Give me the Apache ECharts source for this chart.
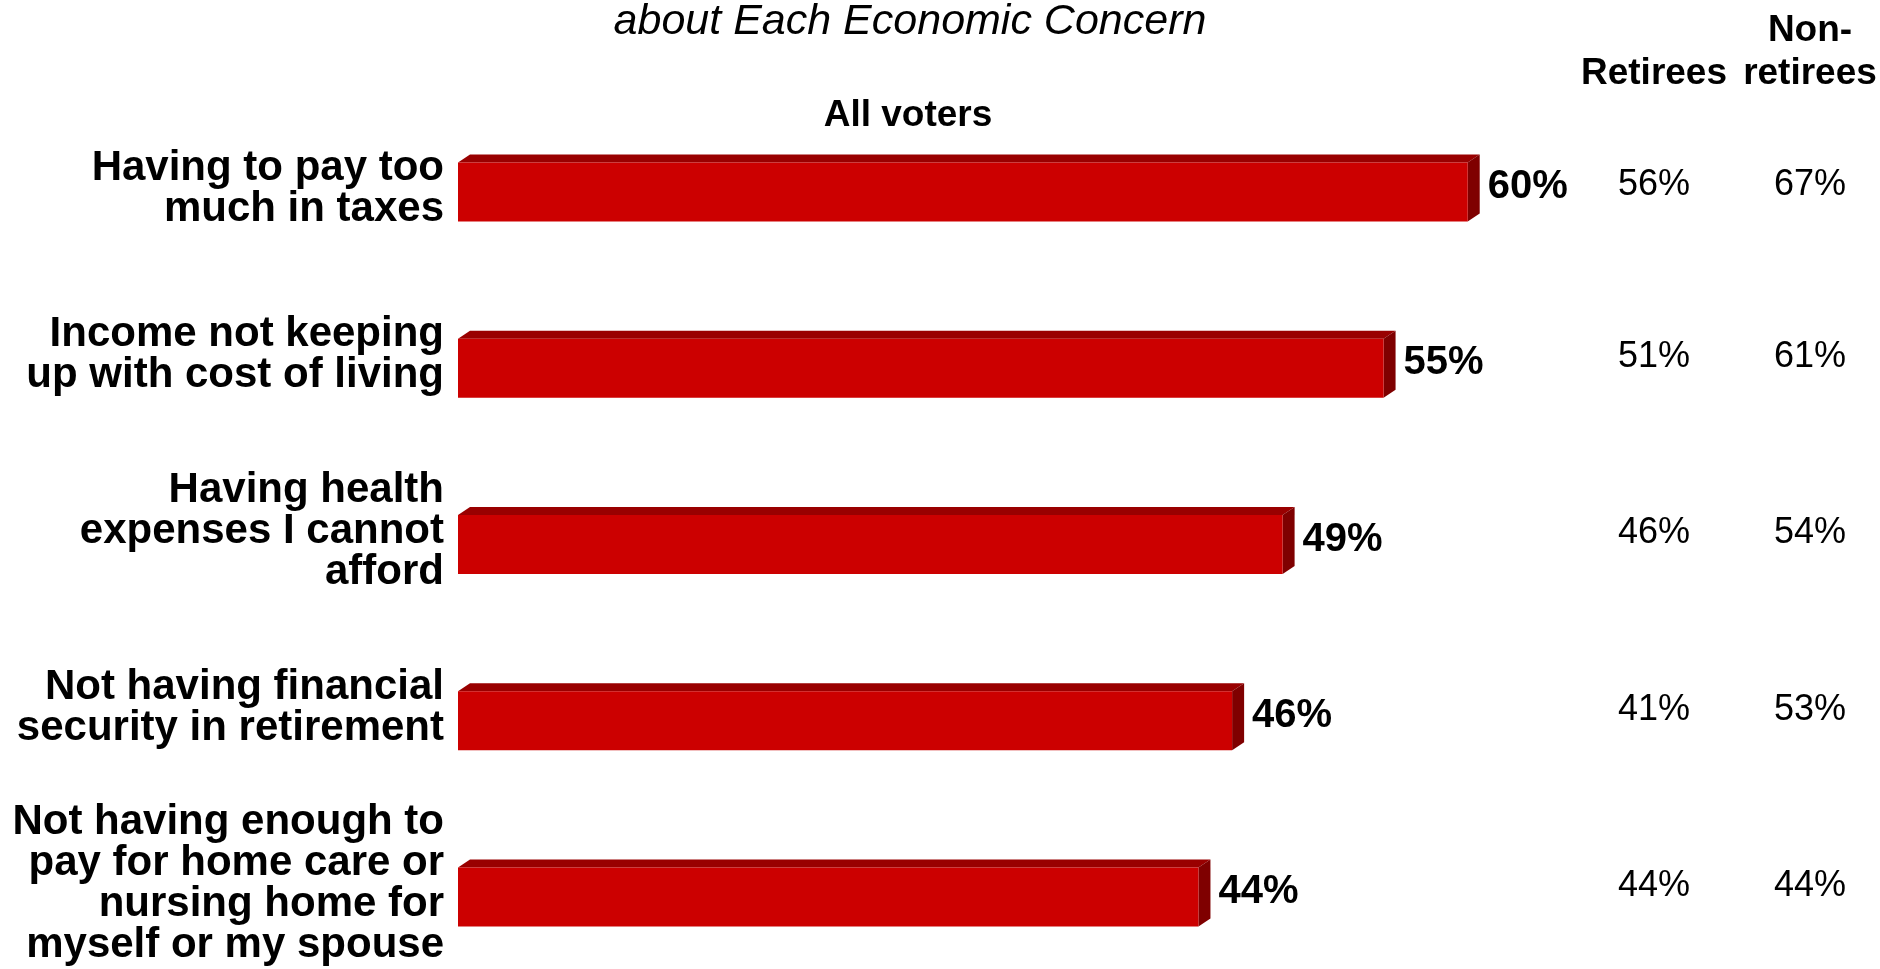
<!DOCTYPE html>
<html>
<head>
<meta charset="utf-8">
<script src="https://cdn.jsdelivr.net/npm/echarts@6/dist/echarts.min.js"></script>
<style>
html,body{margin:0;padding:0;background:#fff;}
#chart{width:1880px;height:969px;}
</style>
</head>
<body>
<div id="chart"></div>
<script>
const categories = [
  'Having to pay too\nmuch in taxes',
  'Income not keeping\nup with cost of living',
  'Having health\nexpenses I cannot\nafford',
  'Not having financial\nsecurity in retirement',
  'Not having enough to\npay for home care or\nnursing home for\nmyself or my spouse'
];
const allVoters = [60, 55, 49, 46, 44];
const retirees = [56, 51, 46, 41, 44];
const nonRetirees = [67, 61, 54, 53, 44];
const titleText = 'about Each Economic Concern';
const headAll = 'All voters';
const headRet = 'Retirees';
const headNon = 'Non-\nretirees';

const FONT = '"Liberation Sans", Arial, Helvetica, sans-serif';
const chart = echarts.init(document.getElementById('chart'), null, {renderer: 'canvas'});

function renderBar(params, api) {
  const v = api.value(0), ci = api.value(1);
  const p0 = api.coord([0, ci]);
  const p1 = api.coord([v, ci]);
  const band = api.size([0, 1])[1];
  const h = band * 0.335;
  const yT = p0[1] - h / 2, yB = p0[1] + h / 2;
  const x0 = p0[0], x1 = p1[0];
  const dx = 12, dy = 8;
  return {
    type: 'group',
    children: [
      {type: 'polygon', shape: {points: [[x0, yT], [x0 + dx, yT - dy], [x1 + dx, yT - dy], [x1, yT]]}, style: {fill: '#990000'}},
      {type: 'polygon', shape: {points: [[x1, yT], [x1 + dx, yT - dy], [x1 + dx, yB - dy], [x1, yB]]}, style: {fill: '#7f0000'}},
      {type: 'rect', shape: {x: x0, y: yT, width: x1 - x0, height: h}, style: {fill: '#CC0000'}},
      {type: 'text', style: {text: v + '%', x: x1 + 20, y: p0[1] - 5, align: 'left', verticalAlign: 'middle',
        fontSize: 40, fontWeight: 'bold', fontFamily: FONT, fill: '#000'}}
    ]
  };
}

function renderCols(params, api) {
  const ci = api.value(1);
  const p = api.coord([0, ci]);
  const y = p[1] - (ci === 0 ? 7 : 11);
  return {
    type: 'group',
    children: [
      {type: 'text', style: {text: api.value(0) + '%', x: 1654, y: y, align: 'center', verticalAlign: 'middle',
        fontSize: 36, fontFamily: FONT, fill: '#000'}},
      {type: 'text', style: {text: api.value(2) + '%', x: 1810, y: y, align: 'center', verticalAlign: 'middle',
        fontSize: 36, fontFamily: FONT, fill: '#000'}}
    ]
  };
}

function renderCatLabel(params, api) {
  const ci = api.value(1);
  const p = api.coord([0, ci]);
  const shift = ci === 0 ? -3 : -13;
  return {
    type: 'text',
    style: {text: categories[ci], x: p[0] - 14, y: p[1] + shift, align: 'right', verticalAlign: 'middle',
      fontSize: 42, fontWeight: 'bold', fontFamily: FONT, fill: '#000', lineHeight: 41}
  };
}

const option = {
  backgroundColor: '#ffffff',
  animation: false,
  grid: {left: 458, top: 104, height: 881, width: 1178, containLabel: false, outerBoundsMode: 'none'},
  xAxis: {
    type: 'value', min: 0, max: 70, show: false
  },
  yAxis: {
    type: 'category', data: categories, inverse: true,
    axisLine: {show: false}, axisTick: {show: false}, splitLine: {show: false},
    axisLabel: {show: false}
  },
  graphic: [
    {type: 'text', style: {text: titleText, x: 910, y: 22, align: 'center', verticalAlign: 'middle',
      fontSize: 43, fontStyle: 'italic', fontFamily: FONT, fill: '#000'}},
    {type: 'text', style: {text: headAll, x: 908, y: 116, align: 'center', verticalAlign: 'middle',
      fontSize: 37, fontWeight: 'bold', fontFamily: FONT, fill: '#000'}},
    {type: 'text', style: {text: headRet, x: 1654, y: 74, align: 'center', verticalAlign: 'middle',
      fontSize: 37, fontWeight: 'bold', fontFamily: FONT, fill: '#000'}},
    {type: 'text', style: {text: headNon, x: 1810, y: 52, align: 'center', verticalAlign: 'middle',
      fontSize: 37, fontWeight: 'bold', fontFamily: FONT, fill: '#000', lineHeight: 43}}
  ],
  series: [
    {
      type: 'custom', name: 'All voters', renderItem: renderBar, clip: false,
      encode: {x: 0, y: 1},
      data: allVoters.map((v, i) => [v, i])
    },
    {
      type: 'custom', name: 'Retirees / Non-retirees', renderItem: renderCols, clip: false,
      encode: {x: 0, y: 1},
      data: retirees.map((v, i) => [v, i, nonRetirees[i]])
    },
    {
      type: 'custom', name: 'Category labels', renderItem: renderCatLabel, clip: false,
      encode: {x: 0, y: 1},
      data: categories.map((c, i) => [0, i])
    }
  ]
};
chart.setOption(option);
</script>
</body>
</html>
